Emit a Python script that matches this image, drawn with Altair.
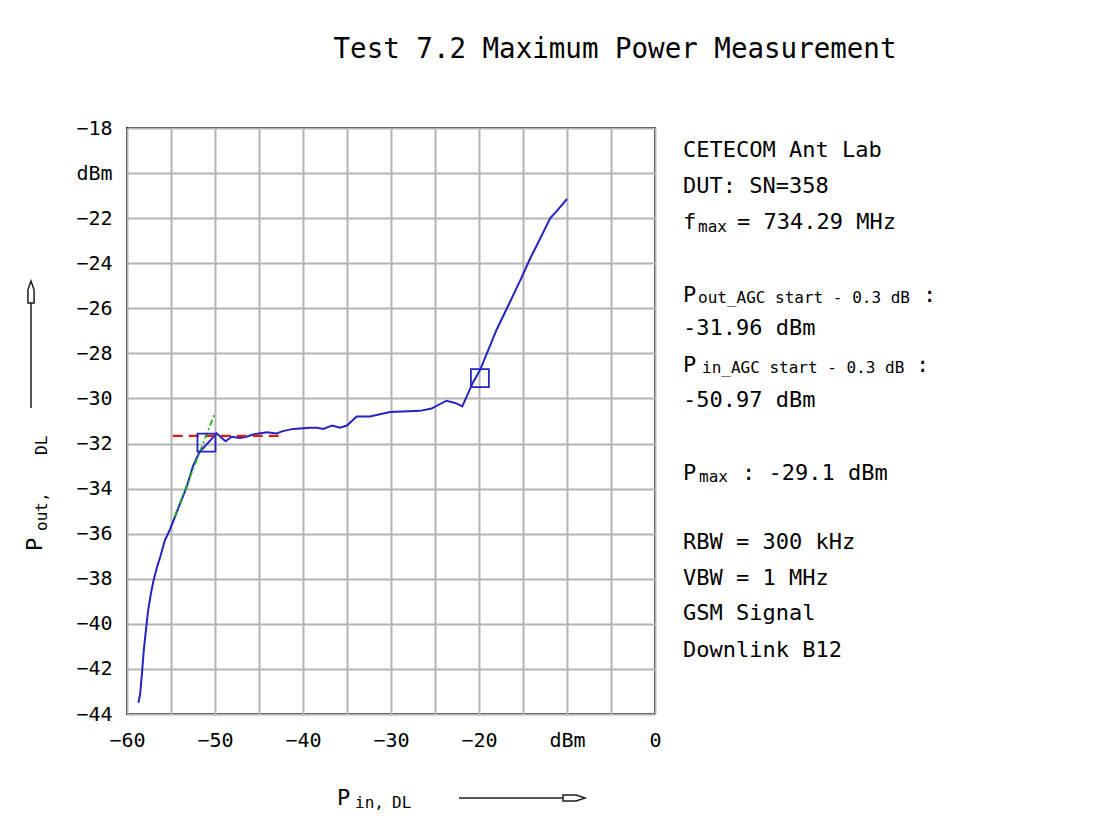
import altair as alt
import pandas as pd

# ---- data ----
p_in = [-58.7, -58.5, -58.3, -58.1, -57.8, -57.6, -57.3, -57.0, -56.6, -56.2,
        -55.7, -55.1, -54.4, -53.2, -52.5, -51.8, -49.8, -48.8, -48.1, -47.2,
        -46.4, -45.7, -44.1, -43.0, -42.3, -41.1, -39.2, -38.4, -37.7, -36.7,
        -35.8, -35.0, -33.9, -32.4, -30.1, -26.7, -25.4, -23.7, -22.7, -21.9,
        -20.7, -19.9, -19.1, -18.0, -16.7, -15.3, -14.2, -13.1, -11.9, -11.2, -10.0]
p_out = [-43.5, -43.1, -42.2, -41.2, -40.1, -39.4, -38.7, -38.1, -37.5, -37.0,
         -36.3, -35.8, -35.1, -33.9, -33.0, -32.4, -31.55, -31.9, -31.7, -31.75,
         -31.7, -31.6, -31.5, -31.55, -31.45, -31.35, -31.3, -31.3, -31.35, -31.2,
         -31.3, -31.2, -30.8, -30.8, -30.6, -30.55, -30.45, -30.1, -30.2, -30.35,
         -29.3, -28.75, -28.0, -26.95, -25.9, -24.75, -23.8, -22.95, -22.0, -21.7, -21.15]
marker_x = [-50.97, -19.9]
marker_y = [-31.96, -29.1]
agc_x = [-54.8, -42.6]
agc_y = [-31.66, -31.66]
lin_x = [-54.6, -50.0]
lin_y = [-35.25, -30.65]
x_ticks = list(range(-60, 1, 5))
y_ticks = list(range(-44, -17, 1))

title_text = "Test 7.2 Maximum Power Measurement"
info = ["CETECOM Ant Lab", "DUT: SN=358", "f", "max", "= 734.29 MHz",
        "P", "out_AGC start - 0.3 dB", ":", "-31.96 dBm",
        "P", "in_AGC start - 0.3 dB", ":", "-50.97 dBm",
        "P", "max", ": -29.1 dBm",
        "RBW = 300 kHz", "VBW = 1 MHz", "GSM Signal", "Downlink B12"]
x_title = ["P", "in,", "DL"]
y_title = ["P", "out,", "DL"]

# ---- styling / layout ----
FONT = "DejaVu Sans Mono"
OX, OY = 127, 128  # page position of plot origin
W, H = 528, 586
MAIN, SUB = 22, 16
BLUE = "#2424c0"
DARK = "#1e1e1e"
GRID = "#b4b4b4"

one = pd.DataFrame({"a": [0]})
curve = pd.DataFrame({"pin": p_in, "pout": p_out})
markers = pd.DataFrame({"pin": marker_x, "pout": marker_y})
agc = pd.DataFrame({"pin": agc_x, "pout": agc_y})
lin = pd.DataFrame({"pin": lin_x, "pout": lin_y})

xs = alt.Scale(domain=[-60, 0], nice=False, zero=False)
ys = alt.Scale(domain=[-44, -18], nice=False, zero=False)

x_axis = alt.Axis(values=x_ticks, grid=True, gridColor=GRID, gridWidth=2,
                  ticks=False, domain=False, title=None,
                  labelExpr="datum.value % 10 != 0 ? '' : (datum.value == -10 ? 'dBm' : datum.label)",
                  labelFont=FONT, labelFontSize=20, labelColor="black",
                  labelPadding=16, labelFlush=False, labelOverlap=False)
y_axis = alt.Axis(values=y_ticks, grid=True, gridColor=GRID, gridWidth=2,
                  ticks=False, domain=False, title=None,
                  labelExpr="datum.value % 2 != 0 ? '' : (datum.value == -20 ? 'dBm' : datum.label)",
                  labelFont=FONT, labelFontSize=20, labelColor="black",
                  labelPadding=15, labelFlush=False, labelOverlap=False)

base_line = alt.Chart(curve).mark_line(color=BLUE, strokeWidth=2).encode(
    x=alt.X("pin:Q", scale=xs, axis=x_axis),
    y=alt.Y("pout:Q", scale=ys, axis=y_axis),
)
agc_line = alt.Chart(agc).mark_line(color="#d02020", strokeWidth=2.2, strokeDash=[10, 6]).encode(
    x=alt.X("pin:Q", scale=xs), y=alt.Y("pout:Q", scale=ys))
lin_line = alt.Chart(lin).mark_line(color="#20b020", strokeWidth=1.8, strokeDash=[6, 3, 2, 3]).encode(
    x=alt.X("pin:Q", scale=xs), y=alt.Y("pout:Q", scale=ys))
squares = alt.Chart(markers).mark_point(shape="square", size=324, filled=False,
                                         color=BLUE, strokeWidth=1.8, opacity=1).encode(
    x=alt.X("pin:Q", scale=xs), y=alt.Y("pout:Q", scale=ys))


def T(s, px, py, size, align="left", angle=0):
    return alt.Chart(one).mark_text(text=s, font=FONT, fontSize=size, align=align,
                                    baseline="alphabetic", color="black", angle=angle).encode(
        x=alt.value(px - OX), y=alt.value(py - OY))


def R(x1, y1, x2, y2):
    return alt.Chart(one).mark_rule(color=DARK, strokeWidth=1.5).encode(
        x=alt.value(x1 - OX), x2=alt.value(x2 - OX),
        y=alt.value(y1 - OY), y2=alt.value(y2 - OY))


def HEAD(px, py, path):
    return alt.Chart(one).mark_point(shape=path, size=484, filled=False, stroke=DARK,
                                     strokeWidth=1.5, opacity=1).encode(
        x=alt.value(px - OX), y=alt.value(py - OY))


texts = [
    T(title_text, 615, 58, 27.5, align="center"),
    T(info[0], 683, 157, MAIN),
    T(info[1], 683, 193, MAIN),
    T(info[2], 683, 229, MAIN), T(info[3], 698, 232, SUB), T(info[4], 737, 229, MAIN),
    T(info[5], 683, 302, MAIN), T(info[6], 698, 303, SUB), T(info[7], 923, 302, MAIN),
    T(info[8], 683, 335, MAIN),
    T(info[9], 683, 372, MAIN), T(info[10], 702, 373, SUB), T(info[11], 916, 372, MAIN),
    T(info[12], 683, 407, MAIN),
    T(info[13], 683, 480, MAIN), T(info[14], 699, 482, SUB), T(info[15], 742, 480, MAIN),
    T(info[16], 683, 549, MAIN),
    T(info[17], 683, 585, MAIN),
    T(info[18], 683, 620, MAIN),
    T(info[19], 683, 657, MAIN),
    # x axis title
    T(x_title[0], 337, 805, MAIN), T(x_title[1], 355, 808, SUB), T(x_title[2], 392, 808, SUB),
    # y axis title (rotated)
    T(y_title[0], 42, 551, MAIN, angle=270), T(y_title[1], 47, 531, SUB, angle=270),
    T(y_title[2], 47, 455, SUB, angle=270),
]

arrows = [
    R(459, 798, 563, 798),
    HEAD(574, 798, "M-1,-0.28 L0.2,-0.28 L1,0 L0.2,0.28 L-1,0.28 Z"),
    R(31, 303, 31, 408),
    HEAD(31, 292, "M-0.28,1 L-0.28,-0.2 L0,-1 L0.28,-0.2 L0.28,1 Z"),
]

chart = alt.layer(base_line, agc_line, lin_line, squares, *texts, *arrows).properties(
    width=W, height=H,
    autosize=alt.AutoSizeParams(type="none"),
    padding={"left": OX - 8, "top": OY - 8, "right": 424, "bottom": 100},
).configure_view(stroke=DARK, strokeWidth=2)

chart.save("out.html", embed_options={"renderer": "svg", "actions": False})
